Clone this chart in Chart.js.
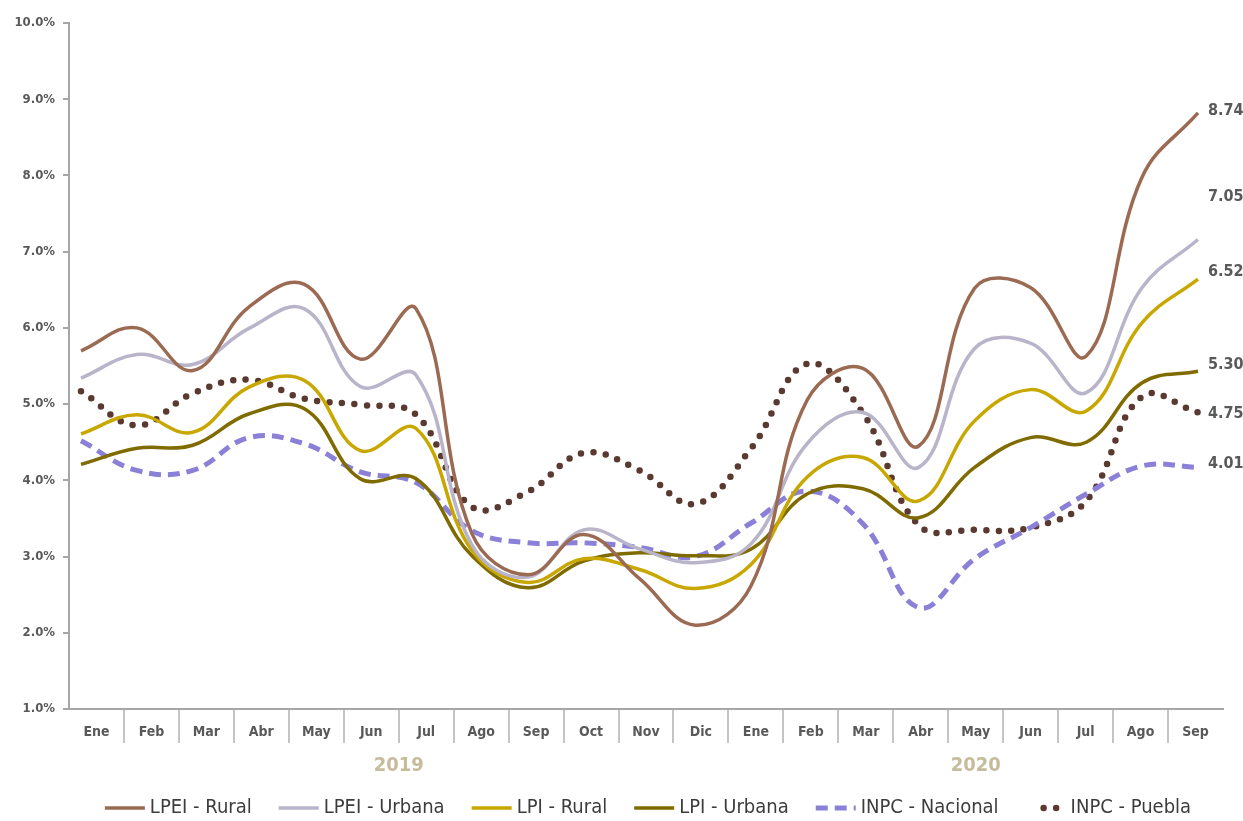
<!DOCTYPE html>
<html>
<head>
<meta charset="utf-8">
<script src="https://cdn.jsdelivr.net/npm/chart.js@4.4.1/dist/chart.umd.min.js"></script>
<style>
    html, body { margin: 0; padding: 0; background: #fff; }
    #wrap { width: 1243px; height: 821px; position: relative; }
</style>
</head>
<body>
<div id="wrap"><canvas id="inflationChart"></canvas></div>
<script>
// values (percent)
const months = ['Ene', 'Feb', 'Mar', 'Abr', 'May', 'Jun', 'Jul', 'Ago', 'Sep', 'Oct', 'Nov', 'Dic',
                'Ene', 'Feb', 'Mar', 'Abr', 'May', 'Jun', 'Jul', 'Ago', 'Sep'];
const years = ['2019', '2020'];
const yearFirstMonth = [0, 12];
const yearLastMonth = [11, 20];

const lpeiRural    = [5.70, 6.00, 5.44, 6.27, 6.57, 5.59, 6.25, 3.30, 2.76, 3.29, 2.71, 2.10, 2.62, 5.05, 5.47, 4.45, 6.52, 6.53, 5.63, 7.98, 8.82];
const lpeiUrbana   = [5.34, 5.65, 5.52, 5.99, 6.25, 5.23, 5.38, 3.15, 2.73, 3.35, 3.10, 2.92, 3.17, 4.48, 4.89, 4.17, 5.73, 5.80, 5.15, 6.53, 7.16];
const lpiRural     = [4.61, 4.86, 4.63, 5.22, 5.31, 4.39, 4.68, 3.08, 2.66, 2.97, 2.83, 2.58, 2.90, 4.04, 4.30, 3.73, 4.78, 5.19, 4.91, 6.07, 6.64];
const lpiUrbana    = [4.21, 4.42, 4.46, 4.87, 4.94, 4.02, 4.02, 3.01, 2.59, 2.94, 3.05, 3.01, 3.10, 3.82, 3.89, 3.51, 4.17, 4.56, 4.50, 5.28, 5.43];
const inpcNacional = [4.52, 4.13, 4.13, 4.56, 4.48, 4.11, 3.97, 3.34, 3.18, 3.18, 3.12, 3.00, 3.44, 3.86, 3.43, 2.33, 2.97, 3.38, 3.82, 4.19, 4.17];
const inpcPuebla   = [5.17, 4.72, 5.14, 5.32, 5.07, 4.99, 4.86, 3.65, 3.85, 4.36, 4.13, 3.69, 4.42, 5.53, 4.88, 3.41, 3.35, 3.38, 3.73, 5.10, 4.89];

const seriesNames = ['LPEI - Rural', 'LPEI - Urbana', 'LPI - Rural', 'LPI - Urbana', 'INPC - Nacional', 'INPC - Puebla'];
const endLabels = ['8.74', '7.05', '6.52', '5.30', '4.01', '4.75'];

const FONT = "'Liberation Sans Narrow', 'DejaVu Sans Condensed', 'Roboto Condensed', sans-serif";
const colors = ['#9b6a52', '#b9b4c9', '#c8a700', '#7f6b00', '#8b80d8', '#5a3930'];
const endLabelShift = [-2, -43, -7, -6, -4, 1];

function toPoints(values) {
    return values.map((v, i) => ({ x: i, y: v }));
}

function makeDataset(i, values, extra) {
    return Object.assign({
        label: seriesNames[i],
        data: toPoints(values),
        xAxisID: 'xl',
        borderColor: colors[i],
        backgroundColor: colors[i],
        borderWidth: 3.5,
        pointRadius: 0,
        tension: 0.4,
        fill: false
    }, extra || {});
}

const datasets = [
    makeDataset(0, lpeiRural),
    makeDataset(1, lpeiUrbana),
    makeDataset(2, lpiRural),
    makeDataset(3, lpiUrbana),
    makeDataset(4, inpcNacional, { borderWidth: 5, borderDash: [12, 7] }),
    makeDataset(5, inpcPuebla, { borderWidth: 6.5, borderDash: [0, 12.5], borderCapStyle: 'round' })
];

const yearLabelsPlugin = {
    id: 'yearLabels',
    afterDraw(chart) {
        const ctx = chart.ctx;
        const xs = chart.scales.x;
        ctx.save();
        ctx.font = 'bold 20px ' + FONT;
        ctx.fillStyle = '#c6bc9b';
        ctx.textAlign = 'center';
        ctx.textBaseline = 'middle';
        years.forEach((y, i) => {
            const cx = (xs.getPixelForValue(yearFirstMonth[i]) + xs.getPixelForValue(yearLastMonth[i])) / 2;
            ctx.fillText(y, cx, 766);
        });
        ctx.restore();
    }
};

const endLabelsPlugin = {
    id: 'endLabels',
    afterDatasetsDraw(chart) {
        const ctx = chart.ctx;
        ctx.save();
        ctx.font = 'bold 16px ' + FONT;
        ctx.fillStyle = '#595959';
        ctx.textAlign = 'left';
        ctx.textBaseline = 'middle';
        chart.data.datasets.forEach((ds, i) => {
            const pts = chart.getDatasetMeta(i).data;
            const last = pts[pts.length - 1];
            ctx.fillText(endLabels[i], last.x + 10, last.y + endLabelShift[i]);
        });
        ctx.restore();
    }
};

const bottomLegendPlugin = {
    id: 'bottomLegend',
    afterDraw(chart) {
        const ctx = chart.ctx;
        const y = 808;
        const sample = 40, gapText = 5, gapItem = 27;
        ctx.save();
        ctx.font = '20px ' + FONT;
        ctx.textBaseline = 'middle';
        const widths = seriesNames.map(n => ctx.measureText(n).width);
        const total = widths.reduce((a, w) => a + sample + gapText + w, 0) + gapItem * (seriesNames.length - 1);
        let x = 648 - total / 2;
        chart.data.datasets.forEach((ds, i) => {
            ctx.beginPath();
            ctx.strokeStyle = ds.borderColor;
            ctx.lineWidth = ds.borderWidth;
            ctx.setLineDash(ds.borderDash || []);
            ctx.lineCap = ds.borderCapStyle || 'butt';
            if (i === 5) {
                ctx.moveTo(x + 18, y);
                ctx.lineTo(x + sample, y);
            } else {
                ctx.moveTo(x, y);
                ctx.lineTo(x + sample, y);
            }
            ctx.stroke();
            ctx.setLineDash([]);
            ctx.fillStyle = '#3c3c3c';
            ctx.fillText(seriesNames[i], x + sample + gapText, y);
            x += sample + gapText + widths[i] + gapItem;
        });
        ctx.restore();
    }
};

const ctx = document.getElementById('inflationChart').getContext('2d');
new Chart(ctx, {
    type: 'line',
    data: {
        labels: months,
        datasets: datasets
    },
    options: {
        responsive: true,
        maintainAspectRatio: false,
        animation: false,
        layout: { padding: { top: 23, right: 20, left: 0, bottom: 0 } },
        plugins: {
            legend: { display: false },
            tooltip: { enabled: false }
        },
        scales: {
            x: {
                type: 'category',
                offset: true,
                grid: {
                    offset: true,
                    drawOnChartArea: false,
                    drawTicks: true,
                    tickLength: 34,
                    lineWidth: 2,
                    color: c => (c.type === 'tick' && c.index > 0) ? '#c4c4c4' : 'rgba(0,0,0,0)'
                },
                border: { display: true, color: '#a6a6a6', width: 2 },
                ticks: {
                    autoSkip: false,
                    maxRotation: 0,
                    padding: -19,
                    color: '#595959',
                    font: { family: FONT, size: 14, weight: 'bold' }
                },
                afterFit(scale) { scale.height = 112; }
            },
            xl: {
                type: 'linear',
                display: false,
                min: -0.215,
                max: 20.448
            },
            y: {
                min: 1,
                max: 10,
                ticks: {
                    stepSize: 1,
                    padding: 8,
                    color: '#595959',
                    font: { family: FONT, size: 13, weight: 'bold' },
                    callback: v => v.toFixed(1) + '%'
                },
                grid: {
                    drawOnChartArea: false,
                    tickLength: 6,
                    color: '#a6a6a6',
                    lineWidth: 2
                },
                border: { display: true, color: '#a6a6a6', width: 2 },
                afterFit(scale) { scale.width = 69; }
            }
        }
    },
    plugins: [yearLabelsPlugin, endLabelsPlugin, bottomLegendPlugin]
});
</script>
</body>
</html>
